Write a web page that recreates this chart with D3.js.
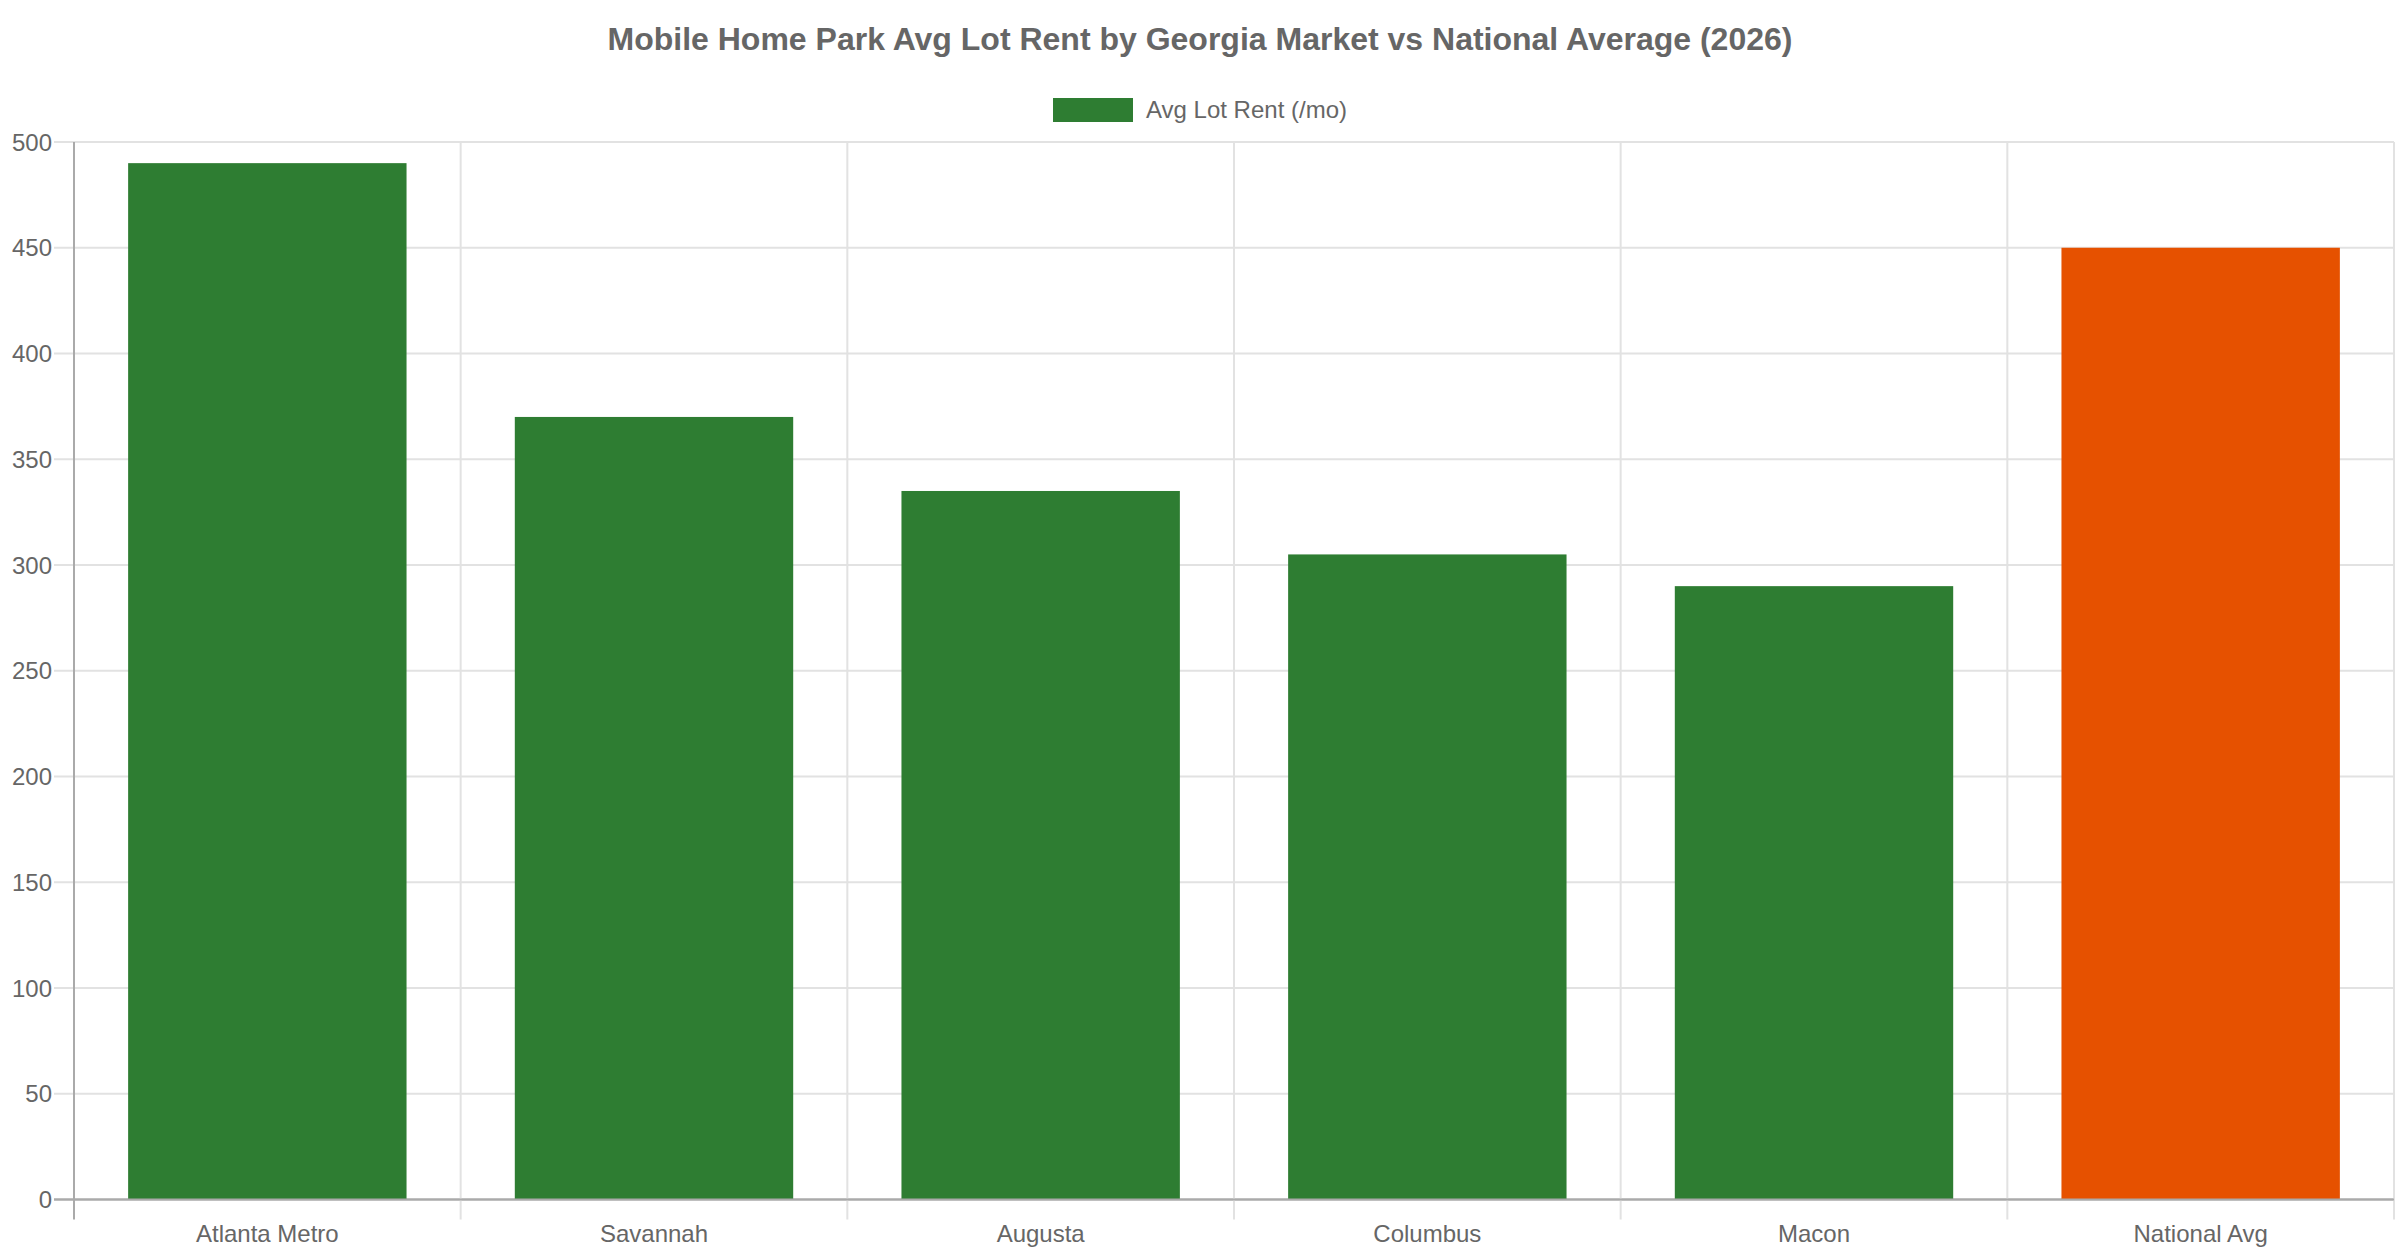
<!DOCTYPE html>
<html>
<head>
<meta charset="utf-8">
<script src="https://cdn.jsdelivr.net/npm/d3@7"></script>
<style>
  html, body { margin: 0; padding: 0; background: #fff; }
  svg { display: block; font-family: "Liberation Sans", Arial, sans-serif; }
</style>
</head>
<body>
<div id="chart"></div>
<script>
// chart data
var categories = ["Atlanta Metro", "Savannah", "Augusta", "Columbus", "Macon", "National Avg"];
var rents = [490, 370, 335, 305, 290, 450];
var barColors = ["#2e7d32", "#2e7d32", "#2e7d32", "#2e7d32", "#2e7d32", "#e65100"];
var yTicks = [0, 50, 100, 150, 200, 250, 300, 350, 400, 450, 500];
var seriesName = "Avg Lot Rent (/mo)";
var titleText = "Mobile Home Park Avg Lot Rent by Georgia Market vs National Average (2026)";

var width = 2400, height = 1260;
var margin = {top: 142, right: 6, bottom: 60.5, left: 74};

var svg = d3.select("#chart").append("svg")
    .attr("width", width)
    .attr("height", height);

var x = d3.scaleBand()
    .domain(categories)
    .range([margin.left, width - margin.right])
    .padding(0);

var y = d3.scaleLinear()
    .domain([0, 500])
    .range([height - margin.bottom, margin.top]);

// horizontal grid + y ticks
svg.append("g")
    .selectAll("line")
    .data(yTicks)
    .enter().append("line")
    .attr("x1", margin.left - 20)
    .attr("x2", width - margin.right)
    .attr("y1", function (d) { return y(d); })
    .attr("y2", function (d) { return y(d); })
    .attr("stroke", function (d) { return d === 0 ? "#aaaaaa" : "#e2e2e2"; })
    .attr("stroke-width", 2);

// vertical grid lines at category boundaries
var bounds = categories.map(function (c) { return x(c); }).concat([x.range()[1]]);
svg.append("g")
    .selectAll("line")
    .data(bounds)
    .enter().append("line")
    .attr("x1", function (d) { return d; })
    .attr("x2", function (d) { return d; })
    .attr("y1", margin.top)
    .attr("y2", y(0) + 20)
    .attr("stroke", function (d, i) { return i === 0 ? "#aaaaaa" : "#e2e2e2"; })
    .attr("stroke-width", 2);

// bars
var barW = x.bandwidth() * 0.72;
svg.append("g")
    .selectAll("rect")
    .data(rents)
    .enter().append("rect")
    .attr("x", function (d, i) { return x(categories[i]) + (x.bandwidth() - barW) / 2; })
    .attr("y", function (d) { return y(d); })
    .attr("width", barW)
    .attr("height", function (d) { return y(0) - y(d); })
    .attr("fill", function (d, i) { return barColors[i]; });

// redraw bottom axis line over bars
svg.append("line")
    .attr("x1", margin.left - 20)
    .attr("x2", width - margin.right)
    .attr("y1", y(0))
    .attr("y2", y(0))
    .attr("stroke", "#aaaaaa")
    .attr("stroke-width", 2);

// y tick labels
svg.append("g")
    .selectAll("text")
    .data(yTicks)
    .enter().append("text")
    .attr("x", margin.left - 22)
    .attr("y", function (d) { return y(d); })
    .attr("dy", "0.36em")
    .attr("text-anchor", "end")
    .attr("font-size", 24)
    .attr("fill", "#666")
    .text(function (d) { return d; });

// x labels
svg.append("g")
    .selectAll("text")
    .data(categories)
    .enter().append("text")
    .attr("x", function (d) { return x(d) + x.bandwidth() / 2; })
    .attr("y", y(0) + 42)
    .attr("text-anchor", "middle")
    .attr("font-size", 24)
    .attr("fill", "#666")
    .text(function (d) { return d; });

// title
svg.append("text")
    .attr("x", width / 2)
    .attr("y", 50)
    .attr("text-anchor", "middle")
    .attr("font-size", 32)
    .attr("font-weight", "bold")
    .attr("fill", "#666")
    .text(titleText);

// legend
var legend = svg.append("g");
legend.append("rect")
    .attr("x", 1053)
    .attr("y", 98)
    .attr("width", 80)
    .attr("height", 24)
    .attr("fill", barColors[0]);
legend.append("text")
    .attr("x", 1146)
    .attr("y", 118)
    .attr("font-size", 24)
    .attr("fill", "#666")
    .text(seriesName);
</script>
</body>
</html>
